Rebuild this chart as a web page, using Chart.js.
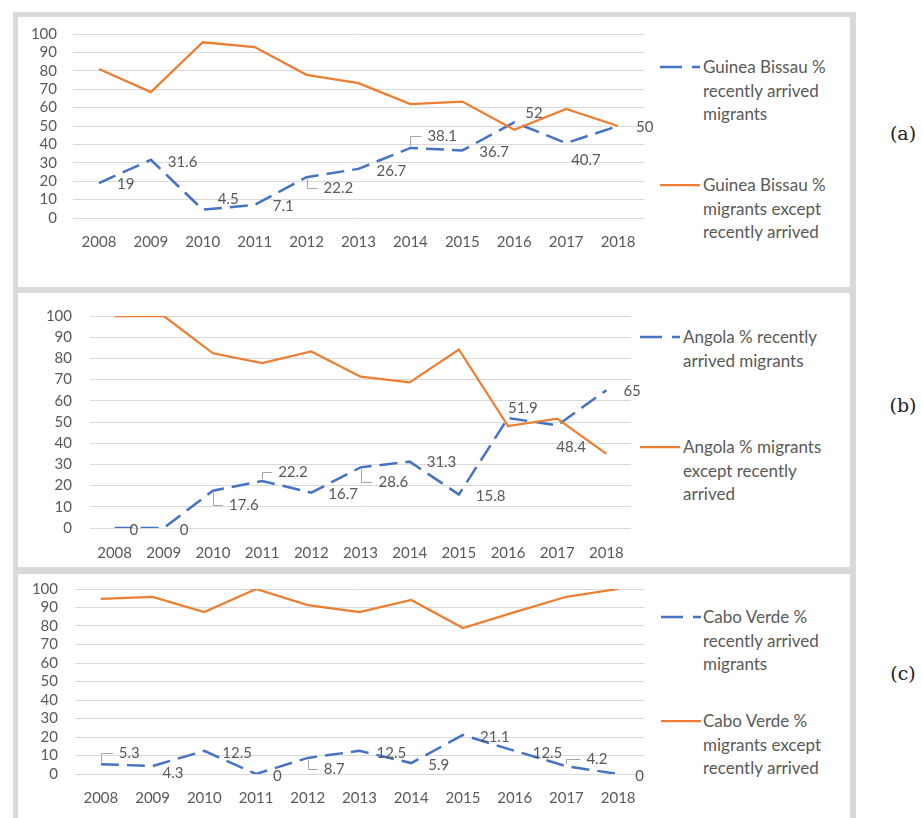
<!DOCTYPE html>
<html>
<head>
<meta charset="utf-8">
<script src="https://cdn.jsdelivr.net/npm/chart.js@4.4.1/dist/chart.umd.min.js"></script>
<style>
  body { margin: 0; width: 922px; height: 818px; position: relative; overflow: hidden; background: #fff; font-family: Lato, sans-serif; }
  .band { position: absolute; background: #d9d9d9; }
  canvas { position: absolute; }
  .legtext { position: absolute; font-size: 17px; line-height: 23.5px; color: #595959; white-space: nowrap; }
  .legline { position: absolute; }
  .tag { position: absolute; font-family: "DejaVu Serif", serif; font-size: 19px; color: #222; transform: translate(-50%, -50%); }
</style>
</head>
<body>
<div class="band" style="left:13px;top:12px;width:843px;height:5px"></div>
<div class="band" style="left:13px;top:287px;width:843px;height:6px"></div>
<div class="band" style="left:13px;top:567px;width:843px;height:7px"></div>
<div class="band" style="left:13px;top:12px;width:5px;height:806px"></div>
<div class="band" style="left:850px;top:12px;width:6px;height:806px"></div>

<svg class="legline" style="left:660px;top:65px" width="40" height="4"><line x1="0" y1="2" x2="40" y2="2" stroke="#4472c4" stroke-width="2.5" stroke-dasharray="22 10"/></svg>
<div class="legtext" style="left:703px;top:55px">Guinea Bissau %<br>recently arrived<br>migrants</div>
<svg class="legline" style="left:660px;top:183px" width="40" height="4"><line x1="0" y1="2" x2="40" y2="2" stroke="#ed7d31" stroke-width="2.25"/></svg>
<div class="legtext" style="left:703px;top:173px">Guinea Bissau %<br>migrants except<br>recently arrived</div>
<div class="tag" style="left:903px;top:133px">(a)</div>

<svg class="legline" style="left:640px;top:335px" width="40" height="4"><line x1="0" y1="2" x2="40" y2="2" stroke="#4472c4" stroke-width="2.5" stroke-dasharray="22 10"/></svg>
<div class="legtext" style="left:683px;top:325px">Angola % recently<br>arrived migrants</div>
<svg class="legline" style="left:640px;top:445px" width="40" height="4"><line x1="0" y1="2" x2="40" y2="2" stroke="#ed7d31" stroke-width="2.25"/></svg>
<div class="legtext" style="left:683px;top:435px">Angola % migrants<br>except recently<br>arrived</div>
<div class="tag" style="left:903px;top:405px">(b)</div>

<svg class="legline" style="left:661px;top:615px" width="40" height="4"><line x1="0" y1="2" x2="40" y2="2" stroke="#4472c4" stroke-width="2.5" stroke-dasharray="22 10"/></svg>
<div class="legtext" style="left:703px;top:605px">Cabo Verde %<br>recently arrived<br>migrants</div>
<svg class="legline" style="left:661px;top:719px" width="40" height="4"><line x1="0" y1="2" x2="40" y2="2" stroke="#ed7d31" stroke-width="2.25"/></svg>
<div class="legtext" style="left:703px;top:709px">Cabo Verde %<br>migrants except<br>recently arrived</div>
<div class="tag" style="left:903px;top:673px">(c)</div>

<script>
const years = ['2008', '2009', '2010', '2011', '2012', '2013', '2014', '2015', '2016', '2017', '2018'];

const gbRecent = [19, 31.6, 4.5, 7.1, 22.2, 26.7, 38.1, 36.7, 52, 40.7, 50];
const gbOther = [81, 68.4, 95.5, 92.9, 77.8, 73.3, 61.9, 63.3, 48, 59.3, 50];

const angRecent = [0, 0, 17.6, 22.2, 16.7, 28.6, 31.3, 15.8, 51.9, 48.4, 65];
const angOther = [100, 100, 82.4, 77.8, 83.3, 71.4, 68.7, 84.2, 48.1, 51.6, 35];

const cvRecent = [5.3, 4.3, 12.5, 0, 8.7, 12.5, 5.9, 21.1, 12.5, 4.2, 0];
const cvOther = [94.7, 95.7, 87.5, 100, 91.3, 87.5, 94.1, 78.9, 87.5, 95.8, 100];

// where each data label goes: [dx to text left, dy to text middle, leader line]
const gbLabelPos = [[18, 1], [17, 2], [15, -11], [18, 1], [17, 11, 1], [18, 2], [17, -12, 1], [17, 2], [11, -9], [5, 17], [18, 1]];
const angLabelPos = [[15, 2], [16, 2], [16, 14, 1], [16, -9, 1], [17, 2], [18, 15, 1], [17, 1], [17, 2], [0, -10], [-1, 22], [17, 1]];
const cvLabelPos = [[18, -11, 1], [10, 7], [18, 2], [17, 2], [16, 11, 1], [17, 2], [17, 2], [17, 2], [18, 2], [20, -7, 1], [17, 2]];

const blue = '#4472c4';
const orange = '#ed7d31';
const textGrey = '#595959';

// draws the value labels of the dashed series
const dataLabels = {
    id: 'dataLabels',
    afterDatasetsDraw(chart, args, opts) {
        const meta = chart.getDatasetMeta(0);
        const values = chart.data.datasets[0].data;
        const ctx = chart.ctx;
        ctx.save();
        ctx.font = '15px Lato';
        ctx.fillStyle = textGrey;
        ctx.textBaseline = 'middle';
        meta.data.forEach((pt, i) => {
            const [dx, dy, leader] = opts.pos[i];
            const tx = pt.x + dx;
            const ty = pt.y + dy;
            if (leader) {
                ctx.strokeStyle = '#a6a6a6';
                ctx.lineWidth = 1;
                ctx.beginPath();
                ctx.moveTo(Math.round(pt.x) + 0.5, pt.y + (dy > 0 ? 2 : -2));
                ctx.lineTo(Math.round(pt.x) + 0.5, Math.round(ty) + 0.5);
                ctx.lineTo(tx - 6, Math.round(ty) + 0.5);
                ctx.stroke();
            }
            ctx.fillText(String(values[i]), tx, ty);
        });
        ctx.restore();
    }
};

function makePanel(area, recent, other, labelPos, yGap, xGap) {
    const yAxisW = 55, padTop = 14, padRight = 40, xAxisH = 40;
    const canvas = document.createElement('canvas');
    let left = area.l - yAxisW;
    let top = area.t - padTop;
    let w = area.r + padRight - left;
    let h = area.b + xAxisH - top;
    canvas.width = w;
    canvas.height = h;
    canvas.style.left = left + 'px';
    canvas.style.top = top + 'px';
    document.body.appendChild(canvas);

    const chart = new Chart(canvas.getContext('2d'), {
        type: 'line',
        data: {
            labels: years,
            datasets: [
                {
                    data: recent,
                    borderColor: blue,
                    borderWidth: 2.5,
                    borderDash: [18, 8],
                    pointRadius: 0,
                    tension: 0,
                    order: 1
                },
                {
                    data: other,
                    borderColor: orange,
                    borderWidth: 2.25,
                    pointRadius: 0,
                    tension: 0,
                    order: 0
                }
            ]
        },
        options: {
            responsive: false,
            maintainAspectRatio: false,
            animation: false,
            devicePixelRatio: 1,
            layout: { padding: { top: padTop, right: padRight, left: 0, bottom: 0 } },
            plugins: {
                legend: { display: false },
                tooltip: { enabled: false },
                dataLabels: { pos: labelPos }
            },
            scales: {
                x: {
                    offset: true,
                    grid: { display: false },
                    border: { display: false },
                    ticks: { color: textGrey, font: { family: 'Lato', size: 15 }, padding: xGap, maxRotation: 0 },
                    afterFit: s => { s.height = xAxisH; }
                },
                y: {
                    min: 0,
                    max: 100,
                    grid: { color: '#d9d9d9', drawTicks: false },
                    border: { display: false },
                    ticks: { stepSize: 10, autoSkip: false, color: textGrey, font: { family: 'Lato', size: 15 }, padding: yGap },
                    afterFit: s => { s.width = yAxisW; }
                }
            }
        },
        plugins: [dataLabels]
    });

    // line the plot area up with the picture (a few passes, the layout shifts a little)
    for (let k = 0; k < 4; k++) {
        const ca = chart.chartArea;
        if (Math.abs(ca.top + top - area.t) < 0.5 && Math.abs(ca.bottom + top - area.b) < 0.5 &&
            Math.abs(ca.left + left - area.l) < 0.5 && Math.abs(ca.right + left - area.r) < 0.5) break;
        const dTop = ca.top, dLeft = ca.left, dBottom = h - ca.bottom, dRight = w - ca.right;
        left = area.l - dLeft;
        top = area.t - dTop;
        w = Math.round(area.r - area.l + dLeft + dRight);
        h = Math.round(area.b - area.t + dTop + dBottom);
        canvas.style.left = left + 'px';
        canvas.style.top = top + 'px';
        chart.resize(w, h);
    }
}

makePanel({ l: 73, r: 644, t: 34, b: 218 }, gbRecent, gbOther, gbLabelPos, 16, 7);
makePanel({ l: 90, r: 631, t: 316, b: 528 }, angRecent, angOther, angLabelPos, 18, 8);
makePanel({ l: 75, r: 644, t: 589, b: 774 }, cvRecent, cvOther, cvLabelPos, 17, 7);
</script>
</body>
</html>
